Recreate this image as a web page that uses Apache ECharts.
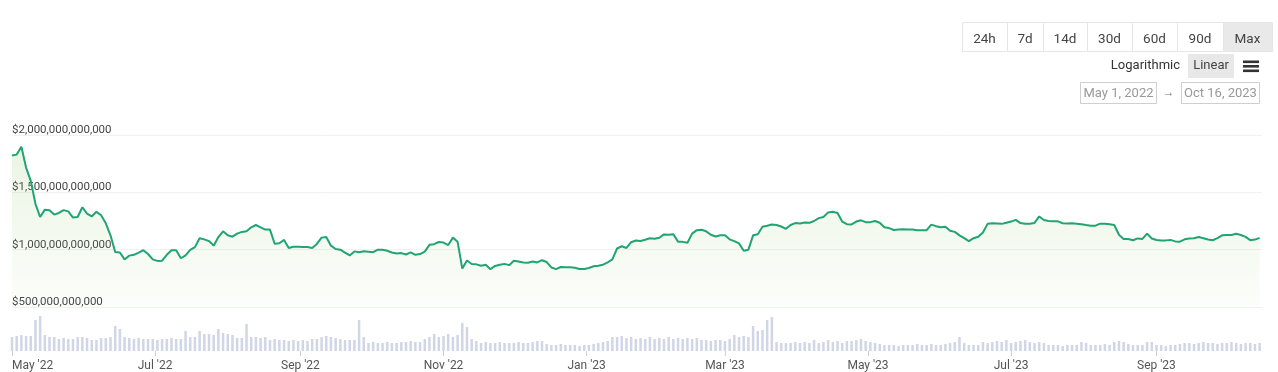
<!DOCTYPE html>
<html><head><meta charset="utf-8">
<script src="https://cdn.jsdelivr.net/npm/echarts@6/dist/echarts.min.js"></script>
<style>html,body{margin:0;padding:0;background:#fff}#c{width:1278px;height:372px}</style>
</head><body><div id="c"></div>
<script>
// ---- data ----
const startDate = '2022-05-01';
const endDate = '2023-10-16';
const stepDays = 2;
// total market cap, billions USD, one reading every 2 days from May 1 2022
const marketCapB = [
 1821,1829,1897,1716,1600,1400,1285,1349,1343,1306,
 1320,1345,1334,1280,1285,1370,1315,1290,1330,1300,
 1230,1125,980,975,915,948,955,975,995,962,
 915,902,904,955,995,995,925,950,998,1022,
 1100,1090,1075,1035,1110,1160,1125,1113,1140,1155,
 1160,1195,1215,1195,1175,1175,1052,1056,1085,1015,
 1025,1025,1023,1023,1015,1050,
 1105,1110,1035,1006,1000,975,950,985,978,986,
 982,978,1000,1000,990,975,966,970,958,977,
 955,962,983,1042,1048,1067,1062,1040,1105,1070,
 835,905,875,872,860,868,830,858,868,876,
 865,903,896,888,886,897,889,908,892,845,
 830,849,846,846,843,831,831,840,855,860,
 869,890,915,1010,1030,1015,
 1065,1080,1076,1087,1100,1095,1104,1133,1130,1135,
 1070,1068,1060,1140,1170,1174,1160,1130,1115,1125,
 1125,1090,1075,1055,990,1000,1125,1135,1200,1209,
 1220,1215,1202,1182,1215,1232,1228,1237,1234,1250,
 1275,1285,1325,1330,1320,1245,1222,1220,1245,1256,
 1240,1240,1250,1235,1195,1188,1172,1176,1177,1175,
 1175,1169,1170,1170,1218,1205,
 1195,1200,1165,1155,1125,1100,1075,1100,1113,1150,
 1225,1230,1228,1225,1235,1245,1260,1232,1227,1227,
 1233,1290,1258,1250,1247,1247,1230,1228,1230,1227,
 1222,1215,1209,1209,1227,1225,1222,1215,1130,1093,
 1093,1082,1098,1094,1140,1098,1084,1081,1081,1085,
 1072,1070,1090,1098,1100,1110,1100,1088,1082,1100,
 1125,1128,1128,1138,1128,1112,1083,1088,1103
];
// 24h volume, billions USD, same dates
const volumeB = [
 70,75,80,75,75,155,175,80,70,70,
 60,65,60,60,70,70,65,55,55,65,
 65,70,125,110,70,65,60,65,60,60,
 60,55,60,60,65,60,60,100,70,70,
 100,85,85,80,110,90,85,80,65,65,
 135,70,70,65,70,55,60,55,55,50,
 55,50,55,50,60,
 60,70,75,70,65,60,55,55,55,155,
 70,40,45,40,40,45,40,40,45,45,
 50,45,45,60,70,85,70,75,85,70,
 80,140,120,60,50,40,45,40,40,45,
 40,40,40,45,40,40,45,50,50,35,
 30,30,35,30,30,30,25,30,30,35,
 40,45,50,70,70,75,65,70,60,65,
 60,70,60,65,60,70,60,65,60,65,
 60,65,55,55,50,55,55,50,60,80,
 70,75,70,125,100,105,155,170,45,40,
 40,40,45,40,
 45,40,55,40,45,55,45,50,40,50,
 50,55,60,50,45,40,35,30,30,30,
 25,30,30,30,35,30,30,35,30,30,
 35,40,45,70,40,30,30,30,45,40,
 45,50,45,55,40,45,50,55,45,40,
 45,40,30,30,30,25,30,30,30,45,
 40,30,30,30,35,30,45,50,45,35,
 30,30,30,45,45,30,30,25,30,30,
 35,40,40,35,40,45,40,40,35,40,
 40,45,40,35,40,40,35,40
];
const tickDates = ['2022-05-01','2022-07-01','2022-09-01','2022-11-01','2023-01-01','2023-03-01','2023-05-01','2023-07-01','2023-09-01'];
const tickLabels = ["May '22","Jul '22","Sep '22","Nov '22","Jan '23","Mar '23","May '23","Jul '23","Sep '23"];
const yMinB = 500, yMaxB = 2000, yStepB = 500;
const rangeButtons = ['24h','7d','14d','30d','60d','90d','Max'];
const scaleButtons = ['Logarithmic','Linear'];
const dateRange = ['May 1, 2022','Oct 16, 2023'];

// ---- build ----
const DAY = 86400000;
const t0 = Date.parse(startDate);
const tEnd = Date.parse(endDate);
const capData = marketCapB.map((v, i) => [t0 + i * stepDays * DAY, v * 1e9]);
const volData = volumeB.map((v, i) => [t0 + i * stepDays * DAY, v * 1e9]);
const tickTimes = tickDates.map(d => Date.parse(d));
const FONT = 'Roboto, "Noto Sans", sans-serif';

function fmtUSD(v) { return '$' + Math.round(v).toLocaleString('en-US'); }
function tickLabelFor(v) {
  let k = 0, best = Infinity;
  tickTimes.forEach((t, i) => { const d = Math.abs(t - v); if (d < best) { best = d; k = i; } });
  return tickLabels[k];
}

// UI controls (graphic)
const cellEdges = [962,1007,1043,1087,1132,1177,1223,1272];
const graphics = [];
rangeButtons.forEach((b, i) => {
  const x0 = cellEdges[i], x1 = cellEdges[i + 1];
  graphics.push({ type: 'rect', shape: { x: x0 + 0.5, y: 22.5, width: x1 - x0, height: 29 },
    style: { fill: b === 'Max' ? '#e9e9e9' : '#fff', stroke: '#e6e6e6', lineWidth: 1 }, z: 10 });
  graphics.push({ type: 'text', x: (x0 + x1) / 2, y: 39.5, z: 11,
    style: { text: b, font: '13.5px ' + FONT, fill: '#444', align: 'center', verticalAlign: 'middle' } });
});
graphics.push({ type: 'text', x: 1180, y: 66, z: 11,
  style: { text: scaleButtons[0], font: '13px ' + FONT, fill: '#333', align: 'right', verticalAlign: 'middle' } });
graphics.push({ type: 'rect', shape: { x: 1188, y: 54, width: 46, height: 24 }, style: { fill: '#e8e8e8' }, z: 10 });
graphics.push({ type: 'text', x: 1211, y: 66, z: 11,
  style: { text: scaleButtons[1], font: '13px ' + FONT, fill: '#444', align: 'center', verticalAlign: 'middle' } });
[60.5, 65, 69.5].forEach(y => graphics.push({ type: 'rect', shape: { x: 1243, y: y, width: 16, height: 2.6 }, style: { fill: '#333' }, z: 10 }));
graphics.push({ type: 'rect', shape: { x: 1080.5, y: 82.5, width: 76, height: 21 }, style: { fill: '#fff', stroke: '#cfcfcf' }, z: 10 });
graphics.push({ type: 'text', x: 1118.5, y: 93.5, z: 11,
  style: { text: dateRange[0], font: '13px ' + FONT, fill: '#999', align: 'center', verticalAlign: 'middle' } });
graphics.push({ type: 'text', x: 1168.5, y: 93, z: 11,
  style: { text: '→', font: '12px ' + FONT, fill: '#777', align: 'center', verticalAlign: 'middle' } });
graphics.push({ type: 'rect', shape: { x: 1181.5, y: 82.5, width: 78, height: 21 }, style: { fill: '#fff', stroke: '#cfcfcf' }, z: 10 });
graphics.push({ type: 'text', x: 1220.5, y: 93.5, z: 11,
  style: { text: dateRange[1], font: '13px ' + FONT, fill: '#999', align: 'center', verticalAlign: 'middle' } });

const chart = echarts.init(document.getElementById('c'), null, { renderer: 'canvas' });
chart.setOption({
  animation: false,
  textStyle: { fontFamily: FONT },
  graphic: graphics,
  grid: [
    { left: 12, right: 16, top: 135, height: 172 },
    { left: 12, right: 16, top: 301, height: 50 }
  ],
  xAxis: [
    { type: 'value', gridIndex: 0, min: t0, max: tEnd, axisLine: { show: false }, axisTick: { show: false },
      axisLabel: { show: false }, splitLine: { show: false } },
    { type: 'value', gridIndex: 1, min: t0, max: tEnd, axisLine: { show: false },
      axisTick: { show: true, customValues: tickTimes, length: 5, lineStyle: { color: '#cfcfcf' } },
      axisLabel: { customValues: tickTimes, color: '#555', fontSize: 12, margin: 9, fontFamily: FONT,
        alignMinLabel: 'left', formatter: tickLabelFor },
      splitLine: { show: false } }
  ],
  yAxis: [
    { type: 'value', gridIndex: 0, min: yMinB * 1e9, max: yMaxB * 1e9, interval: yStepB * 1e9, position: 'left',
      axisLine: { show: false }, axisTick: { show: false },
      splitLine: { lineStyle: { color: '#f1f1f1' } },
      axisLabel: { inside: true, margin: 0, verticalAlign: 'bottom', lineHeight: 10, color: '#444', fontSize: 11.5,
        fontFamily: FONT, showMinLabel: true, showMaxLabel: true, formatter: fmtUSD } },
    { type: 'value', gridIndex: 1, min: 0, max: 250e9, show: false, splitLine: { show: false } }
  ],
  series: [
    { type: 'bar', xAxisIndex: 1, yAxisIndex: 1, data: volData, barWidth: 2.5, itemStyle: { color: '#d0d6e6' }, z: 1 },
    { type: 'line', xAxisIndex: 0, yAxisIndex: 0, data: capData, showSymbol: false, symbol: 'none',
      lineStyle: { color: '#20a572', width: 2 },
      areaStyle: { origin: 'start', color: { type: 'linear', x: 0, y: 0, x2: 0, y2: 1,
        colorStops: [{ offset: 0, color: 'rgba(130,192,90,0.24)' }, { offset: 1, color: 'rgba(130,192,90,0.04)' }] } },
      z: 3 }
  ]
});
</script>
</body></html>
